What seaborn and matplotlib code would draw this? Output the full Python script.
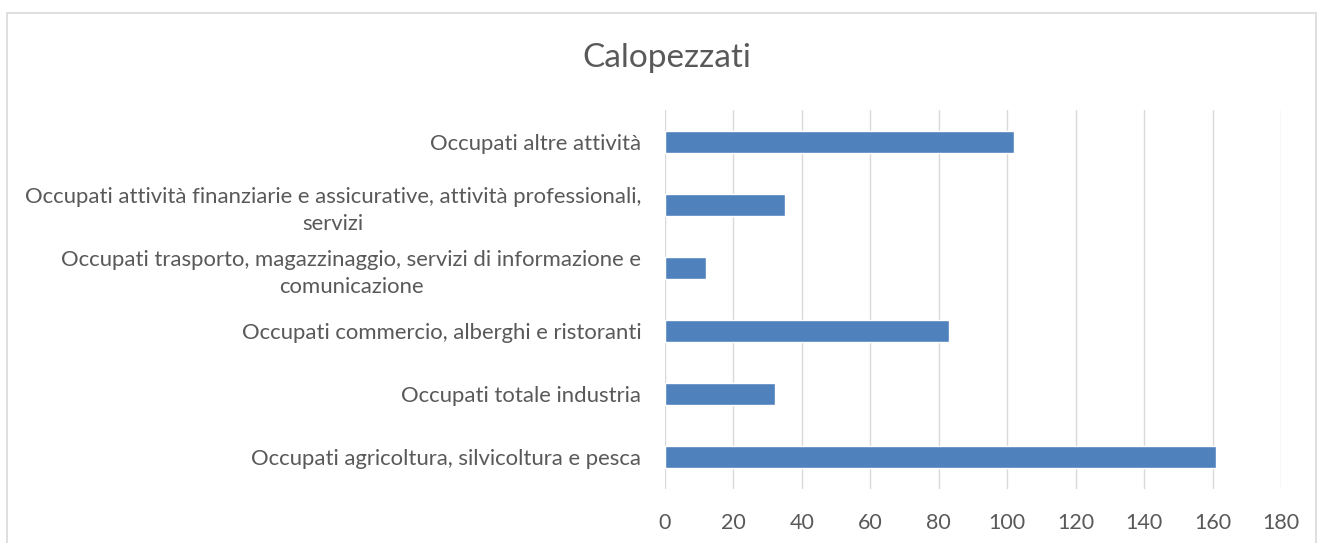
import matplotlib
matplotlib.use("Agg")
import matplotlib.pyplot as plt
import seaborn as sns
import pandas as pd
from matplotlib.patches import Rectangle

categories = [
    "Occupati altre attività",
    "Occupati attività finanziarie e assicurative, attività professionali,\nservizi",
    "Occupati trasporto, magazzinaggio, servizi di informazione e\ncomunicazione",
    "Occupati commercio, alberghi e ristoranti",
    "Occupati totale industria",
    "Occupati agricoltura, silvicoltura e pesca",
]
values = [102, 35, 12, 83, 32, 161]
x_ticks = [0, 20, 40, 60, 80, 100, 120, 140, 160, 180]
title = "Calopezzati"

df = pd.DataFrame({"cat": categories, "val": values})

sns.set_theme(style="white")
plt.rcParams["font.family"] = ["Lato", "DejaVu Sans"]

W, H = 1318, 543
fig = plt.figure(figsize=(W / 100, H / 100), dpi=100)
ax = fig.add_axes([665 / W, 1 - 489 / H, (1281 - 665) / W, (489 - 110) / H])

sns.barplot(data=df, x="val", y="cat", color="#4F81BD", width=0.35,
            saturation=1, ax=ax, orient="h")

ax.set_xlim(0, 180)
ax.set_xticks(x_ticks)
ax.set_xlabel("")
ax.set_ylabel("")
ax.grid(axis="x", color="#D9D9D9", linewidth=1)
ax.set_axisbelow(True)
for s in ax.spines.values():
    s.set_visible(False)
ax.tick_params(axis="x", length=0, pad=17, labelsize=15.5, labelcolor="#595959")
ax.tick_params(axis="y", length=0, pad=17, labelsize=15.9, labelcolor="#595959")
for lbl in ax.get_yticklabels():
    lbl.set_multialignment("center")
    lbl.set_linespacing(1.45)

fig.text(667 / W, 1 - 58 / H, title, ha="center", va="center",
         fontsize=24, color="#595959")

fig.patches.append(Rectangle((7 / W, -0.05), (1316 - 7) / W, 1.05 - 13 / H,
                             transform=fig.transFigure, fill=False,
                             edgecolor="#D9D9D9", linewidth=1.2))

fig.savefig("out.png", dpi=100)
